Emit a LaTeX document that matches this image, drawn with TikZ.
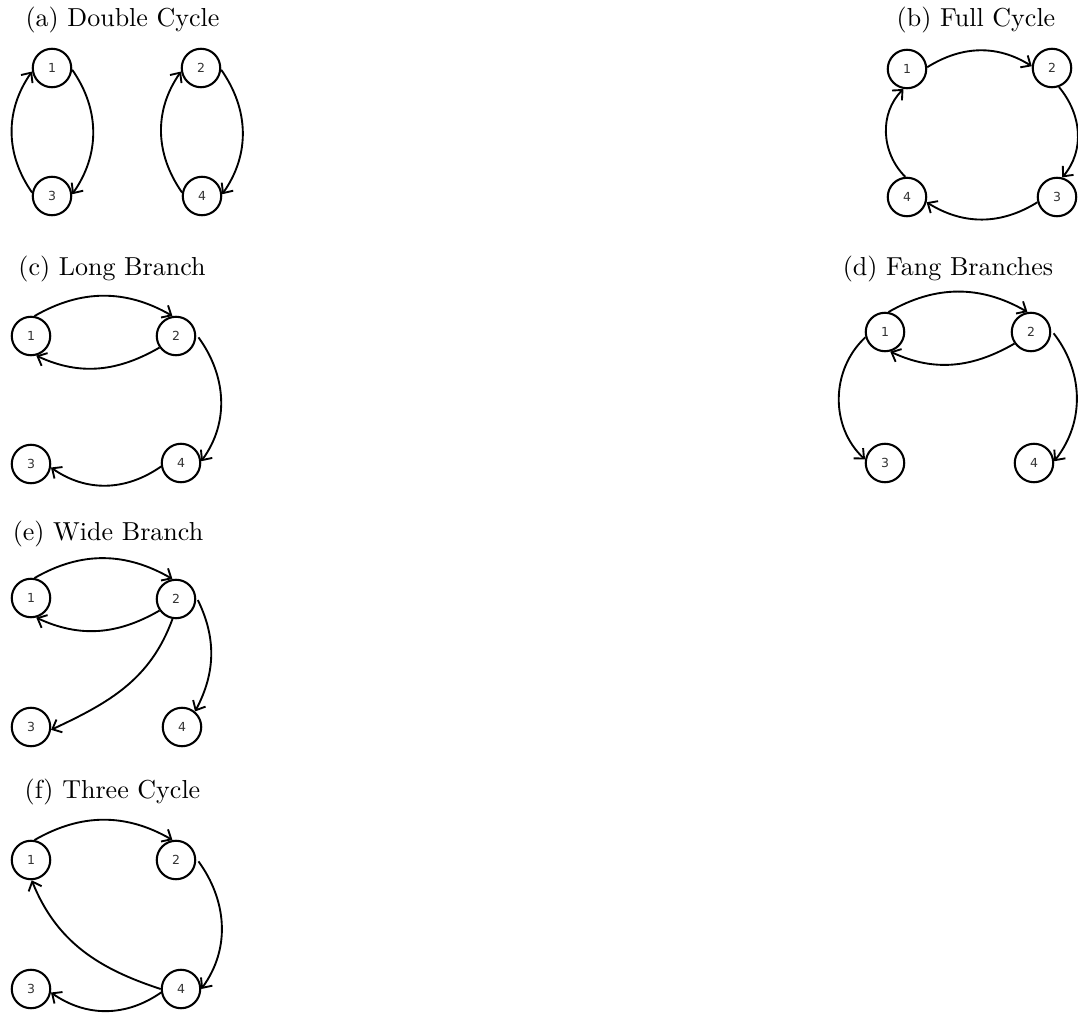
\documentclass[tikz,border=0pt]{standalone}
\usepackage{fontspec}
\usepackage{tikz}
\usetikzlibrary{arrows.meta}
\newfontfamily\vtxfont{DejaVu Sans}
\definecolor{vtxtext}{RGB}{51,51,51}
\tikzset{
  vtx/.style={draw=black,circle,line width=0.8pt,minimum size=14.8pt,inner sep=0pt,font=\vtxfont\fontsize{4.8}{5}\selectfont,text=vtxtext},
  link/.style={-{Straight Barb[length=3pt,width=5.4pt]},line width=0.72pt},
  gaplink/.style={link,shorten <=1.5pt},
  paneltitle/.style={anchor=base,inner sep=0pt,font=\normalsize}
}
\begin{document}
\begin{tikzpicture}[x=0.3846pt,y=0.3846pt]
  \useasboundingbox (0,0) rectangle (1078,-1019);
  % (a) double cycle
  \node[paneltitle] (tita) at (122.5,-27) {(a) Double Cycle};
  \node[vtx] (a1) at (52,-68) {1};  \node[vtx] (a2) at (201,-68) {2};
  \node[vtx] (a3) at (52,-196) {3}; \node[vtx] (a4) at (202,-196) {4};
  \draw[link] (a1.-5) to[out=-55,in=55] (a3.5);
  \draw[link] (a3.170) to[out=125,in=-125] (a1.190);
  \draw[link] (a2.-5) to[out=-55,in=55] (a4.5);
  \draw[link] (a4.170) to[out=125,in=-125] (a2.190);
  % (b) full cycle
  \node[paneltitle] (titb) at (976,-27) {(b) Full Cycle};
  \node[vtx] (b1) at (907,-69) {1};  \node[vtx] (b2) at (1052,-68) {2};
  \node[vtx] (b3) at (1057,-197) {3}; \node[vtx] (b4) at (907,-197) {4};
  \draw[link] (b1.5) to[out=32,in=148] (b2.175);
  \draw[link] (b2.-70) to[out=-50,in=50] (b3.75);
  \draw[link] (b3.-165) to[out=-148,in=-32] (b4.-15);
  \draw[link] (b4.95) to[out=135,in=-135] (b1.-100);
  % (c) long branch
  \node[paneltitle] (titc) at (112,-275) {(c) Long Branch};
  \node[vtx] (c1) at (31,-336) {1};  \node[vtx] (c2) at (176,-336) {2};
  \node[vtx] (c3) at (31,-464) {3};  \node[vtx] (c4) at (181,-463) {4};
  \draw[link] (c1.80) to[out=30,in=150] (c2.100);
  \draw[link] (c2.-145) to[out=-150,in=-25] (c1.-75);
  \draw[gaplink] (c2.5) to[out=-54,in=54] (c4.5);
  \draw[link] (c4.-170) to[out=-145,in=-35] (c3.-10);
  % (d) fang branches
  \node[paneltitle] (titd) at (948,-275) {(d) Fang Branches};
  \node[vtx] (d1) at (885,-332) {1};  \node[vtx] (d2) at (1031,-332) {2};
  \node[vtx] (d3) at (885,-463) {3};  \node[vtx] (d4) at (1034,-463) {4};
  \draw[link] (d1.80) to[out=30,in=150] (d2.100);
  \draw[link] (d2.-145) to[out=-150,in=-25] (d1.-75);
  \draw[link] (d1.195) to[out=-137,in=137] (d3.170);
  \draw[gaplink] (d2.5) to[out=-52,in=52] (d4.5);
  % (e) wide branch
  \node[paneltitle] (tite) at (108,-540) {(e) Wide Branch};
  \node[vtx] (e1) at (31,-598) {1};  \node[vtx] (e2) at (176,-599) {2};
  \node[vtx] (e3) at (31,-727) {3};  \node[vtx] (e4) at (182,-727) {4};
  \draw[link] (e1.80) to[out=30,in=150] (e2.100);
  \draw[link] (e2.-145) to[out=-150,in=-25] (e1.-75);
  \draw[link] (e2.-100) to[out=-110,in=25] (e3.-8);
  \draw[gaplink] (e2.7) to[out=-64,in=62] (e4.50);
  % (f) three cycle
  \node[paneltitle] (titf) at (112.5,-798) {(f) Three Cycle};
  \node[vtx] (f1) at (31,-860) {1};  \node[vtx] (f2) at (176,-860) {2};
  \node[vtx] (f3) at (31,-989) {3};  \node[vtx] (f4) at (181,-989) {4};
  \draw[link] (f1.80) to[out=30,in=150] (f2.100);
  \draw[gaplink] (f2.5) to[out=-54,in=54] (f4.0);
  \draw[link] (f4.180) to[out=162,in=-68] (f1.-88);
  \draw[link] (f4.-170) to[out=-145,in=-35] (f3.-10);
\end{tikzpicture}
\end{document}
